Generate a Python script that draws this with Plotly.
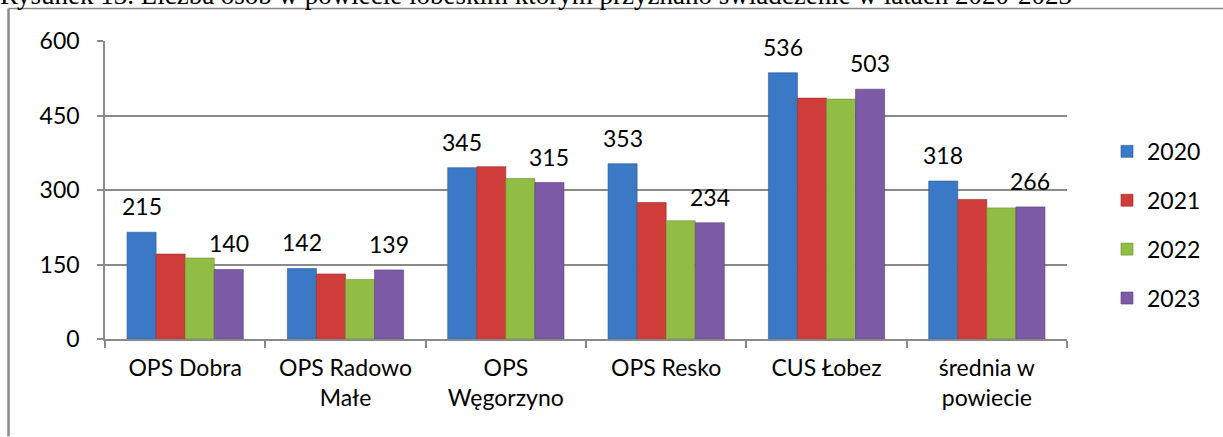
import plotly.graph_objects as go

categories = ["OPS Dobra", "OPS Radowo<br>Małe", "OPS<br>Węgorzyno", "OPS Resko", "CUS Łobez", "średnia w<br>powiecie"]
years = ["2020", "2021", "2022", "2023"]
v2020 = [215, 142, 345, 353, 536, 318]
v2021 = [171, 131, 347, 275, 485, 281]
v2022 = [163, 120, 323, 238, 483, 264]
v2023 = [140, 139, 315, 234, 503, 266]
series = [v2020, v2021, v2022, v2023]
colors = ["#3b78c6", "#cf3d3a", "#92bd45", "#7c5aa6"]
edge = ["#2b5a96", "#9c2c2a", "#6d8f30", "#5b4080"]
labelled = [0, 3]  # series that carry data labels
title_text = "Rysunek 13. Liczba osób w powiecie łobeskim którym przyznano świadczenie w latach 2020-2023"

FONT = "Lato"
W, H = 1223, 437
L, R, T, B = 105, 156, 40.5, 97.5
plot_w = W - L - R
plot_h = H - T - B
bargap = 0.275
cat_px = plot_w / len(categories)
bar_frac = (1 - bargap) / len(years)


def px_to_paper_y(p):
    return (H - B - p) / plot_h


def px_to_paper_x(p):
    return (p - L) / plot_w


fig = go.Figure()
for i, (yr, vals) in enumerate(zip(years, series)):
    fig.add_trace(go.Bar(
        name=yr, x=categories, y=vals,
        marker=dict(color=colors[i], line=dict(color=edge[i], width=0.6)),
        legendgroup=yr,
    ))

annotations = []
for i in labelled:
    offset_px = (-(1 - bargap) / 2 + bar_frac * (i + 0.5)) * cat_px
    for c, v in zip(categories, series[i]):
        annotations.append(dict(
            x=c, y=v, xref="x", yref="y", text=str(v), showarrow=False,
            xshift=offset_px, yshift=26,
            font=dict(family=FONT, size=23, color="#000"),
        ))

annotations.append(dict(
    x=px_to_paper_x(-2), y=px_to_paper_y(-6), xref="paper", yref="paper",
    xanchor="left", yanchor="middle", showarrow=False,
    text=title_text, font=dict(family="Liberation Serif", size=27, color="#000"),
))

frame_left = px_to_paper_x(8.5)
frame_top = px_to_paper_y(8)
shapes = [
    dict(type="line", xref="paper", yref="paper", x0=frame_left, x1=px_to_paper_x(W),
         y0=frame_top, y1=frame_top, line=dict(color="#8a8a8a", width=1.5)),
    dict(type="line", xref="paper", yref="paper", x0=frame_left, x1=frame_left,
         y0=frame_top, y1=px_to_paper_y(H), line=dict(color="#8a8a8a", width=2.5)),
]

fig.update_layout(
    width=W, height=H,
    margin=dict(l=L, r=R, t=T, b=B, pad=0),
    paper_bgcolor="white", plot_bgcolor="white",
    barmode="group", bargap=bargap, bargroupgap=0,
    font=dict(family=FONT, size=23, color="#000"),
    showlegend=True,
    legend=dict(x=px_to_paper_x(1107), y=px_to_paper_y(225), xanchor="left", yanchor="middle",
                font=dict(family=FONT, size=23), tracegroupgap=16,
                itemwidth=30, bgcolor="rgba(0,0,0,0)"),
    annotations=annotations, shapes=shapes,
)
fig.update_xaxes(
    type="category", showline=True, linecolor="#8a8a8a", linewidth=1.5,
    ticks="outside", tickson="boundaries", ticklen=7, tickcolor="#8a8a8a", tickwidth=1.5,
    showgrid=False, ticklabelstandoff=8, tickfont=dict(family=FONT, size=23),
)
fig.update_yaxes(
    range=[0, 600], tickvals=[0, 150, 300, 450, 600], showline=True,
    linecolor="#8a8a8a", linewidth=1.5, ticks="outside", ticklen=6,
    tickcolor="#8a8a8a", tickwidth=1.5, showgrid=True, gridcolor="#8a8a8a",
    gridwidth=1.5, zeroline=False, ticklabelstandoff=13,
    tickfont=dict(family=FONT, size=23),
)
fig.write_html(
    "out.html",
    config={"displayModeBar": False},
    post_script="document.body.style.margin='0';document.body.style.overflow='hidden';",
)
